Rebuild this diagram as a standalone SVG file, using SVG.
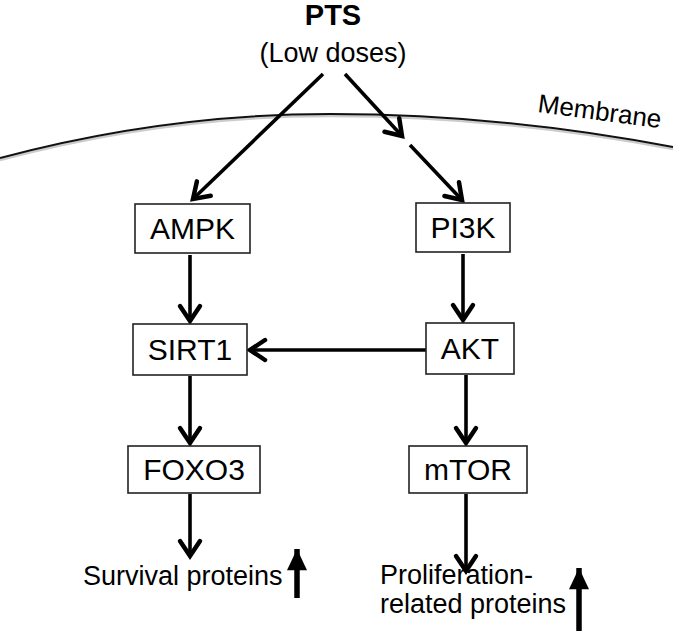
<svg xmlns="http://www.w3.org/2000/svg" width="675" height="633" viewBox="0 0 675 633">
<style>
  text { font-family: "Liberation Sans", Arial, sans-serif; fill: #000; }
  .box rect { fill: #fff; stroke: #222; stroke-width: 1.6; }
  .box text { font-size: 30px; text-anchor: middle; }
  .con line, .con path { stroke: #000; stroke-width: 3.6; fill: none; }
  .up { stroke: #000; stroke-width: 5.5; }
  .lbl { font-size: 27px; }
</style>
<defs>
  <marker id="v" markerUnits="userSpaceOnUse" markerWidth="30" markerHeight="30" viewBox="-16 -12 20 24" refX="0" refY="0" orient="auto">
    <path d="M-12,-8 L0,0 L-12,8" fill="none" stroke="#000" stroke-width="3.6" stroke-linejoin="miter" stroke-linecap="round"/>
  </marker>
  <marker id="tri" markerUnits="userSpaceOnUse" markerWidth="30" markerHeight="30" viewBox="-18 -12 22 24" refX="0" refY="0" orient="auto">
    <path d="M-17,-8 L0,0 L-17,8 Z" fill="#000"/>
  </marker>
</defs>

<g id="membrane">
  <path d="M0,160 Q165,116 330,116 Q500,116 673,149" fill="none" stroke="#ccc" stroke-width="2.5"/>
  <path d="M0,158 Q165,114 330,114 Q500,114 673,147" fill="none" stroke="#111" stroke-width="2"/>
  <text x="537" y="112" font-size="26" transform="rotate(7.5 537 112)">Membrane</text>
</g>

<g id="pts">
  <text x="333" y="25" font-size="29" font-weight="bold" text-anchor="middle">PTS</text>
  <text x="333" y="62" font-size="27" text-anchor="middle">(Low doses)</text>
</g>

<g class="con" id="connectors">
  <line x1="323" y1="74" x2="193" y2="199" marker-end="url(#v)"/>
  <line x1="345" y1="74" x2="402" y2="136" marker-end="url(#v)"/>
  <line x1="410" y1="145" x2="462" y2="200" marker-end="url(#v)"/>
  <line x1="190" y1="255" x2="190" y2="321" marker-end="url(#v)"/>
  <line x1="463" y1="254" x2="463" y2="320" marker-end="url(#v)"/>
  <line x1="426" y1="350" x2="250" y2="350" marker-end="url(#v)"/>
  <line x1="190" y1="376" x2="190" y2="443" marker-end="url(#v)"/>
  <line x1="466" y1="375" x2="466" y2="443" marker-end="url(#v)"/>
  <line x1="190" y1="494" x2="190" y2="556" marker-end="url(#v)"/>
  <line x1="466" y1="494" x2="466" y2="571" marker-end="url(#v)"/>
</g>

<g class="box" id="ampk"><rect x="135" y="204" width="115" height="49"/><text x="192.5" y="239">AMPK</text></g>
<g class="box" id="pi3k"><rect x="416" y="203" width="94" height="49"/><text x="463" y="238">PI3K</text></g>
<g class="box" id="sirt1"><rect x="133" y="324" width="114" height="51"/><text x="190" y="360">SIRT1</text></g>
<g class="box" id="akt"><rect x="426" y="323" width="88" height="51"/><text x="470" y="359">AKT</text></g>
<g class="box" id="foxo3"><rect x="128" y="446" width="132" height="47"/><text x="194" y="480">FOXO3</text></g>
<g class="box" id="mtor"><rect x="409" y="446" width="118" height="47"/><text x="468" y="480">mTOR</text></g>

<g id="survival">
  <text class="lbl" x="83" y="585">Survival proteins</text>
  <line class="up" x1="297" y1="598" x2="297" y2="549" marker-end="url(#tri)"/>
</g>
<g id="proliferation">
  <text class="lbl" x="380" y="584">Proliferation-</text>
  <text class="lbl" x="380" y="613">related proteins</text>
  <line class="up" x1="579" y1="631" x2="579" y2="568" marker-end="url(#tri)"/>
</g>
</svg>
